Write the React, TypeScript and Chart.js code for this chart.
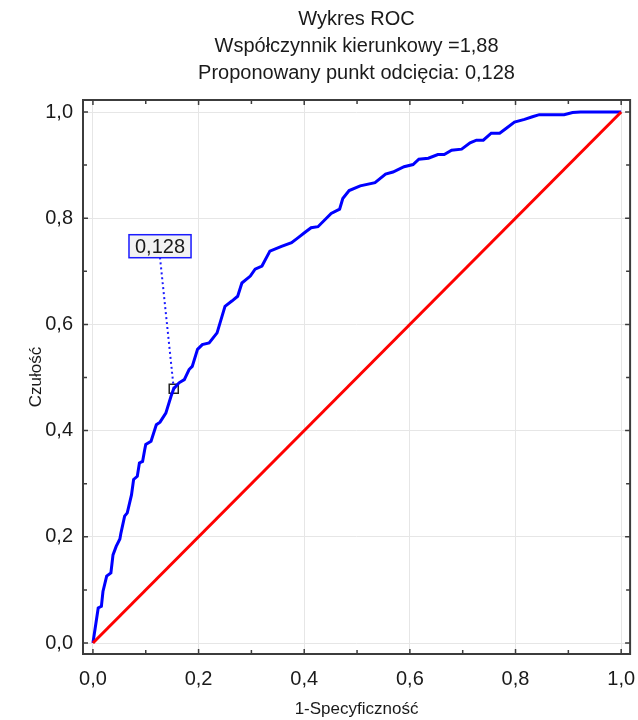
import React, { useEffect, useRef } from "react";
import { Chart, registerables } from "chart.js";

Chart.register(...registerables);

const TITLE_LINES = [
  "Wykres ROC",
  "Współczynnik kierunkowy =1,88",
  "Proponowany punkt odcięcia: 0,128",
];
const X_TITLE = "1-Specyficzność";
const Y_TITLE = "Czułość";
const MAJOR_TICKS = [0, 0.2, 0.4, 0.6, 0.8, 1.0];
const MINOR_TICKS = [0.1, 0.3, 0.5, 0.7, 0.9];

const ROC_X = [0, 0.010, 0.016, 0.019, 0.026, 0.034, 0.038, 0.044, 0.051, 0.053, 0.060, 0.065, 0.073, 0.077, 0.084, 0.088, 0.094, 0.098, 0.100, 0.110, 0.120, 0.127, 0.138, 0.148, 0.153, 0.163, 0.173, 0.182, 0.188, 0.198, 0.207, 0.220, 0.235, 0.250, 0.263, 0.274, 0.282, 0.298, 0.307, 0.320, 0.335, 0.357, 0.376, 0.388, 0.401, 0.413, 0.426, 0.451, 0.467, 0.473, 0.485, 0.506, 0.534, 0.554, 0.568, 0.589, 0.606, 0.617, 0.635, 0.653, 0.665, 0.679, 0.698, 0.714, 0.726, 0.739, 0.754, 0.770, 0.782, 0.798, 0.817, 0.832, 0.845, 0.892, 0.908, 0.923, 1.0];
const ROC_Y = [0, 0.066, 0.069, 0.097, 0.126, 0.132, 0.166, 0.182, 0.196, 0.207, 0.239, 0.245, 0.279, 0.308, 0.314, 0.339, 0.342, 0.364, 0.374, 0.380, 0.411, 0.416, 0.433, 0.465, 0.479, 0.490, 0.496, 0.515, 0.521, 0.553, 0.562, 0.565, 0.584, 0.634, 0.644, 0.653, 0.678, 0.691, 0.704, 0.710, 0.738, 0.747, 0.754, 0.763, 0.773, 0.782, 0.784, 0.809, 0.817, 0.837, 0.852, 0.861, 0.867, 0.883, 0.887, 0.897, 0.901, 0.911, 0.913, 0.920, 0.920, 0.928, 0.930, 0.942, 0.947, 0.947, 0.960, 0.960, 0.969, 0.981, 0.986, 0.991, 0.995, 0.995, 0.999, 1.0, 1.0];

const DIAG_X = [0, 1];
const DIAG_Y = [0, 1];

const CUTOFF_LABEL = "0,128";
const CUTOFF_X = 0.153;
const CUTOFF_Y = 0.479;
const LABEL_X = 0.127;
const LABEL_Y = 0.7256;

const X_MIN = -0.0188;
const X_MAX = 1.0169;
const Y_MIN = -0.0207;
const Y_MAX = 1.0226;

const FONT = "'Liberation Sans', Arial, sans-serif";
const TEXT = "#1a1a1a";

const fmt = (v: number) => v.toFixed(1).replace(".", ",");

const decorPlugin = {
  id: "decor",
  afterDatasetsDraw(chart: any) {
    const { ctx, chartArea, scales } = chart;
    const { left, right, top, bottom } = chartArea;
    const xs = scales.x;
    const ys = scales.y;
    ctx.save();
    ctx.strokeStyle = "#3c3c3c";
    ctx.lineWidth = 2;
    ctx.strokeRect(left, top, right - left, bottom - top);
    ctx.lineWidth = 1.5;
    const drawTicks = (vals: number[], len: number) => {
      vals.forEach((v) => {
        const px = xs.getPixelForValue(v);
        const py = ys.getPixelForValue(v);
        ctx.beginPath();
        ctx.moveTo(px, bottom);
        ctx.lineTo(px, bottom - len);
        ctx.moveTo(px, top);
        ctx.lineTo(px, top + len);
        ctx.moveTo(left, py);
        ctx.lineTo(left + len, py);
        ctx.moveTo(right, py);
        ctx.lineTo(right - len, py);
        ctx.stroke();
      });
    };
    drawTicks(MAJOR_TICKS, 5);
    drawTicks(MINOR_TICKS, 4);

    const ax = xs.getPixelForValue(LABEL_X);
    const ay = ys.getPixelForValue(LABEL_Y);
    ctx.font = `20px ${FONT}`;
    const tw = ctx.measureText(CUTOFF_LABEL).width;
    const bw = tw + 12;
    const bh = 23;
    ctx.fillStyle = "#f2f2f2";
    ctx.fillRect(ax - bw / 2, ay - bh, bw, bh);
    ctx.strokeStyle = "#1a1aff";
    ctx.lineWidth = 1.5;
    ctx.strokeRect(ax - bw / 2, ay - bh, bw, bh);
    ctx.fillStyle = TEXT;
    ctx.textAlign = "center";
    ctx.textBaseline = "middle";
    ctx.fillText(CUTOFF_LABEL, ax, ay - bh / 2 + 1);

    ctx.font = `20px ${FONT}`;
    const cx = (left + right) / 2;
    const ty = [19, 46, 73];
    TITLE_LINES.forEach((t, i) => ctx.fillText(t, cx, ty[i]));
    ctx.restore();
  },
};

export default function App() {
  const ref = useRef<HTMLCanvasElement | null>(null);
  useEffect(() => {
    document.body.style.margin = "0";
    const canvas = ref.current!;
    const chart = new Chart(canvas, {
      type: "scatter",
      data: {
        datasets: [
          {
            label: "diag",
            data: DIAG_X.map((x, i) => ({ x, y: DIAG_Y[i] })),
            showLine: true,
            borderColor: "#ff0000",
            borderWidth: 3,
            pointRadius: 0,
          },
          {
            label: "ROC",
            data: ROC_X.map((x, i) => ({ x, y: ROC_Y[i] })),
            showLine: true,
            borderColor: "#0000ff",
            borderWidth: 3,
            pointRadius: 0,
          },
          {
            label: "connector",
            data: [
              { x: CUTOFF_X, y: CUTOFF_Y },
              { x: LABEL_X, y: LABEL_Y },
            ],
            showLine: true,
            borderColor: "#1a1aff",
            borderWidth: 2,
            borderDash: [2, 3],
            pointRadius: 0,
          },
          {
            label: "cutoff",
            data: [{ x: CUTOFF_X, y: CUTOFF_Y }],
            pointStyle: "rect",
            pointRadius: 6.4,
            borderColor: "#222222",
            borderWidth: 1.5,
            backgroundColor: "rgba(0,0,0,0)",
          },
        ],
      },
      options: {
        responsive: false,
        animation: false,
        devicePixelRatio: 1,
        layout: { padding: { top: 100, right: 3, left: 0, bottom: 0 } },
        plugins: {
          legend: { display: false },
          title: { display: false },
          tooltip: { enabled: false },
        },
        scales: {
          x: {
            type: "linear",
            min: X_MIN,
            max: X_MAX,
            afterBuildTicks: (s: any) => {
              s.ticks = MAJOR_TICKS.map((v) => ({ value: v }));
            },
            afterFit: (s: any) => {
              s.height = 66;
              s.paddingLeft = 0;
              s.paddingRight = 0;
            },
            grid: { color: "#e6e6e6", lineWidth: 1, drawTicks: false },
            border: { display: false },
            ticks: {
              callback: (v: any) => fmt(Number(v)),
              font: { family: FONT, size: 20 },
              color: TEXT,
              padding: 13,
              maxRotation: 0,
            },
            title: {
              display: true,
              text: X_TITLE,
              font: { family: FONT, size: 17 },
              color: TEXT,
              padding: { top: 0, bottom: 0 },
            },
          },
          y: {
            type: "linear",
            min: Y_MIN,
            max: Y_MAX,
            afterBuildTicks: (s: any) => {
              s.ticks = MAJOR_TICKS.map((v) => ({ value: v }));
            },
            afterFit: (s: any) => {
              s.width = 83;
              s.paddingTop = 0;
              s.paddingBottom = 0;
            },
            grid: { color: "#e6e6e6", lineWidth: 1, drawTicks: false },
            border: { display: false },
            ticks: {
              callback: (v: any) => fmt(Number(v)),
              font: { family: FONT, size: 20 },
              color: TEXT,
              padding: 10,
            },
            title: {
              display: true,
              text: Y_TITLE,
              font: { family: FONT, size: 17 },
              color: TEXT,
              padding: { top: 26, bottom: 0 },
            },
          },
        },
      },
      plugins: [decorPlugin],
    } as any);
    return () => chart.destroy();
  }, []);
  return <canvas ref={ref} width={638} height={720} />;
}
